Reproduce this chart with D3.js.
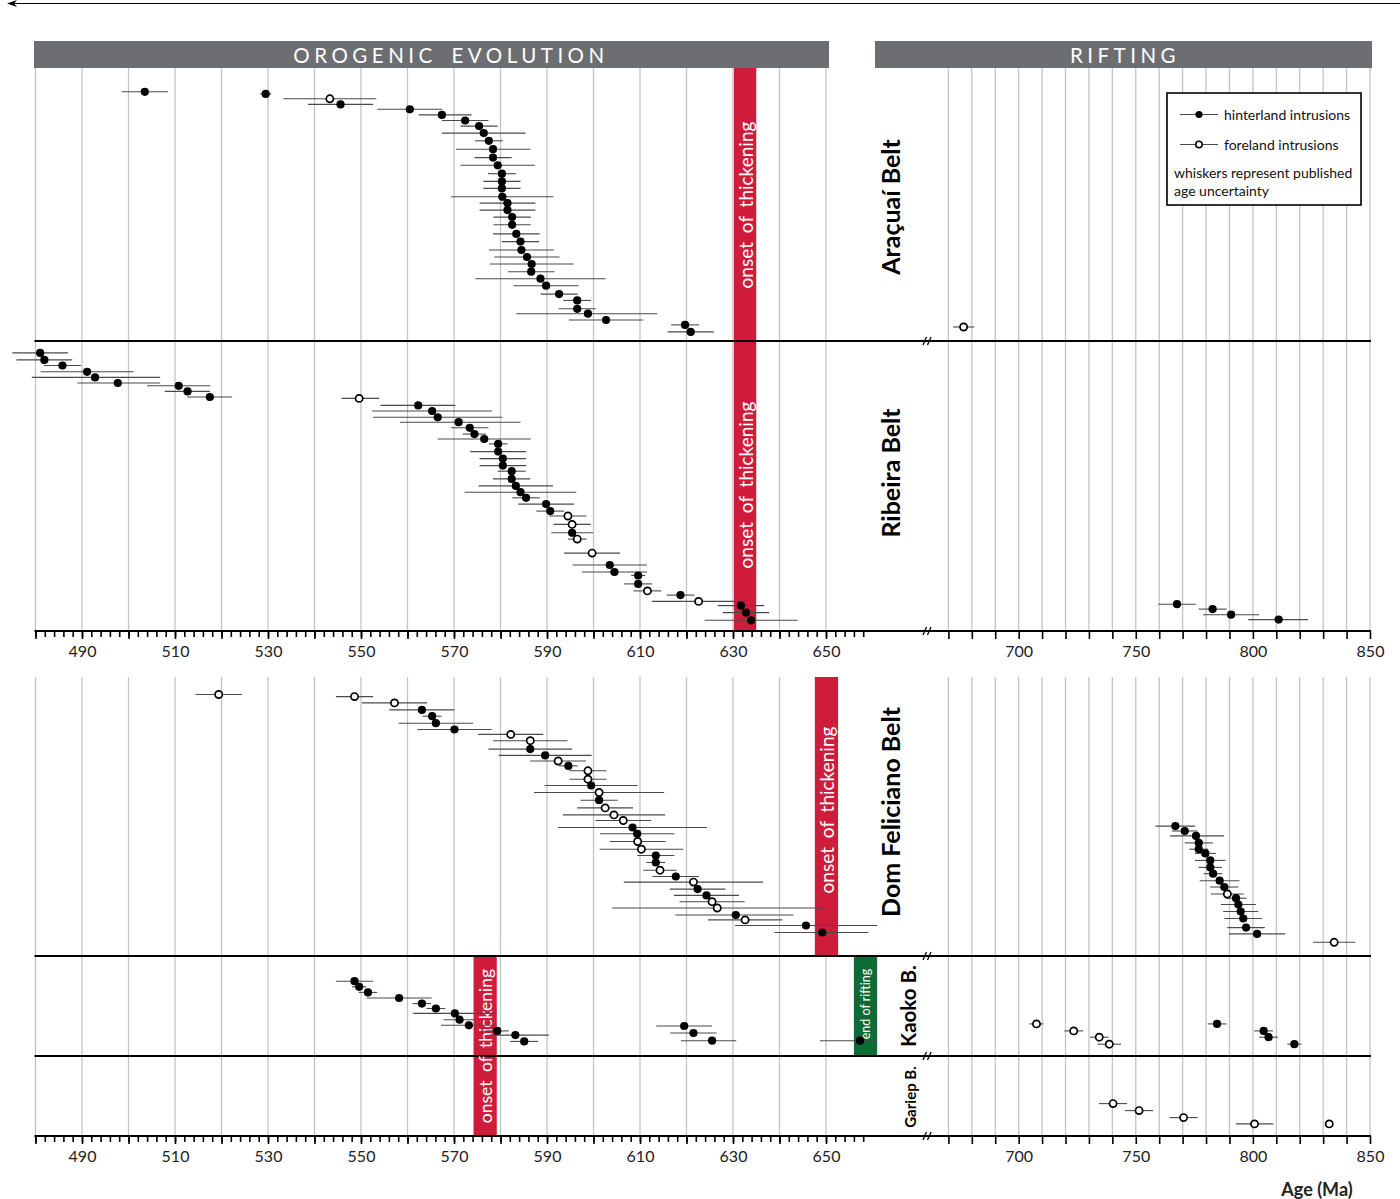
<!DOCTYPE html>
<html><head><meta charset="utf-8">
<script src="https://cdn.jsdelivr.net/npm/d3@7"></script>
<style>
body{margin:0;background:#fff}
svg{display:block}
text{font-family:Lato,'Open Sans',sans-serif}
</style>
</head><body>
<svg id="c" width="1400" height="1199"></svg>
<script>
// ---------------- DATA ----------------
// each sample: [age (Ma), minus error, plus error, kind (h = hinterland, f = foreland), stacking row]
const araLeft = [
[503.5,5,5,"h",3.4],[529.5,1.2,1.2,"h",3.7],[543.3,10,10,"f",4.4],[545.6,7,7,"h",5.2],
[560.5,7,7,"h",5.9],[567.4,5,6.4,"h",6.7],[572.4,5,5,"h",7.5],[575.4,4,4,"h",8.3],
[576.4,9,9,"h",9.3],[577.5,3,3,"h",10.4],[578.4,8,8,"h",11.6],[578.4,4,4,"h",12.8],
[579.4,8,8,"h",13.9],[580.3,3,3,"h",15.1],[580.3,4,4,"h",16.2],[580.3,4,4,"h",17.2],
[580.4,11,11,"h",18.4],[581.5,6,6,"h",19.3],[581.5,6,6,"h",20.3],[582.5,4,4,"h",21.3],
[582.5,4,4,"h",22.4],[583.4,5,5,"h",23.7],[584.3,4,4,"h",24.8],[584.5,7,7,"h",26.0],
[585.7,7,7,"h",27.0],[586.7,9,9,"h",28.0],[586.6,5,5,"h",29.1],[588.6,14,14,"h",30.1],
[589.8,7,7,"h",31.1],[592.6,4,4,"h",32.3],[596.5,3,3,"h",33.2],[596.5,4,4,"h",34.4],
[598.8,15.4,14.9,"h",35.1],[602.7,8,8,"h",36.0],[619.7,3,3,"h",36.7],[620.9,5,5,"h",37.7]
];
const araRight = [[676.5,4.5,4.5,"f",37.0]];

const ribLeft = [
[481,6,6,"h",1.7],[481.9,6,6,"h",2.7],[485.8,4,4,"h",3.5],[491.1,10,10,"h",4.4],
[492.8,13.6,14,"h",5.2],[497.7,8.7,9.1,"h",6.0],[510.8,6.8,6.8,"h",6.4],[512.7,4.9,4.8,"h",7.2],
[517.5,4.9,4.8,"h",8.0],[549.6,3.8,4.3,"f",8.2],[562.3,8.1,8,"h",9.2],[565.3,12.9,12.9,"h",10.0],
[566.5,13.9,13.9,"h",10.9],[571,12.6,13.3,"h",11.6],[573.4,4,4,"h",12.4],[574.4,2.5,2.5,"h",13.3],
[576.5,10,10,"h",14.0],[579.5,2,2,"h",14.7],[579.5,6,6,"h",15.8],[580.5,5,5,"h",16.8],
[580.5,5,5,"h",17.8],[582.4,3,3,"h",18.6],[582.4,4,4,"h",19.7],[583.3,8,8,"h",20.7],
[584.3,12,12,"h",21.6],[585.5,3,3,"h",22.4],[589.8,6,6,"h",23.3],[590.7,3,3,"h",24.3],
[594.5,4,4,"f",25.0],[595.4,4,4,"f",26.2],[595.4,4.5,4.5,"h",27.4],[596.5,2,2,"f",28.3],
[599.7,6,6,"f",30.3],[603.5,8,8,"h",32.0],[604.5,7,7,"h",33.0],[609.6,1.5,1.5,"h",33.5],
[609.6,3,3,"h",34.7],[611.6,3,3,"f",35.7],[618.7,3,3,"h",36.3],[622.6,10,10,"f",37.2],
[631.7,5,5,"h",37.8],[632.8,5,5,"h",38.8],[633.9,10,10,"h",39.9]
];
const ribRight = [[767.6,8,8,"h",37.6],[782.8,6,6,"h",38.3],[790.7,12,12,"h",39.1],[811,13,12.5,"h",39.8]];

const dfLeft = [
[519.4,5,5,"f",2.5],[548.6,4,4,"f",2.8],[557.2,7,7,"f",3.7],[563.1,7,7,"h",4.7],
[565.3,2,2,"h",5.6],[566.1,8,8,"h",6.6],[570.1,8,8,"h",7.5],[582.2,7,7,"f",8.2],
[586.4,8,8,"f",9.1],[586.4,9,9,"h",10.3],[589.6,10,10,"h",11.2],[592.4,6,6,"f",12.0],
[594.6,2,2,"h",12.7],[598.8,4,4,"f",13.4],[598.8,4,4,"f",14.6],[599.5,10,10,"h",15.5],
[601.2,14,14,"f",16.5],[601.2,4,4,"h",17.6],[602.5,6,6,"f",18.7],[604.4,11,11,"f",19.7],
[606.4,6,6,"f",20.5],[608.4,16,16,"h",21.5],[609.4,8,8,"h",22.4],[609.5,6,6,"f",23.5],
[610.3,9,9,"f",24.6],[613.4,4,4,"h",25.5],[613.4,2,2,"h",26.5],[614.3,3.6,3.6,"f",27.6],
[617.7,5,5,"h",28.5],[621.5,15,15,"f",29.3],[622.4,6,6,"h",30.3],[624.3,7,7,"h",31.2],
[625.5,7,7,"f",32.1],[626.6,22.6,23.2,"f",33.0],[630.6,13,12.4,"h",34.0],[632.6,8,8,"f",34.7],
[645.7,15.3,15.3,"h",35.5],[649.2,10.3,9.9,"h",36.5]
];
const dfRight = [
[766.9,8.5,8.5,"h",21.3],[770.9,5.5,5.5,"h",22.0],[775.7,11,12,"h",22.7],[776.9,6,6,"h",23.7],
[776.9,4,4,"h",24.6],[779.7,4.5,4.5,"h",25.2],[781.8,6.5,6.5,"h",26.2],[781.8,5,5,"h",27.2],
[783,4,4,"h",28.1],[785.8,8.5,8.5,"h",29.1],[787.8,6,6,"h",30.0],[789.1,7,7,"f",31.0],
[792.8,4.5,4.5,"h",31.6],[793.8,7.5,7.5,"h",32.5],[794.8,7.5,7.5,"h",33.5],[795.9,8,8,"h",34.5],
[797.1,8,8,"h",35.8],[801.8,12,12,"h",36.7],[834.7,9,9,"f",37.9]
];

const kaoLeft = [
[548.6,4,4,"h",3.6],[549.6,1.5,1.5,"h",4.4],[551.5,2,2,"h",5.2],[558.2,7,7,"h",6.0],
[563.1,2,2,"h",6.8],[566.1,2,2,"h",7.5],[570.2,9,9,"h",8.2],[571.2,3.5,3.5,"h",9.1],
[573.2,6,6,"h",9.9],[579.3,2.5,2.5,"h",10.7],[583.2,5.5,7.2,"h",11.3],[585.1,3,3,"h",12.2],
[619.5,6,6,"h",10.0],[621.5,5,5,"h",11.0],[625.5,6.7,5.2,"h",12.1],[657.3,8.6,3.7,"h",12.1]
];
const kaoRight = [
[707.6,3,3,"f",9.7],[723.5,4,4,"f",10.7],[734.4,4,4,"f",11.6],[738.7,5,5,"f",12.6],
[784.7,4,4,"h",9.7],[804.6,4,4,"h",10.7],[806.7,4,4,"h",11.6],[817.7,3,3,"h",12.6]
];
const garRight = [[740.3,6,6,"f",6.8],[751.4,6,6,"f",7.8],[770.4,6,6,"f",8.8],[800.7,8,8,"f",9.7],[832.6,0,0,"f",9.7]];

const beltNames = ["Araçuaí Belt","Ribeira Belt","Dom Feliciano Belt","Kaoko B.","Gariep B."];
const sectionTitles = ["OROGENIC EVOLUTION","RIFTING"];
const leftTickLabels = [490,510,530,550,570,590,610,630,650];
const rightTickLabels = [700,750,800,850];
const leftDomain = [480,660], rightDomain = [663,850];
// onset of thickening (Ma) per panel, end of rifting (Ma)
const thickTop = [630.2,635.0], thickDF = [647.6,652.6], thickKG = [574.2,579.2];
const riftEnd = [656,661];
const legendItems = [["h","hinterland intrusions"],["f","foreland intrusions"]];
const legendNote = ["whiskers represent published","age uncertainty"];
const annotation = "onset of thickening", riftLabel = "end of rifting", axisTitle = "Age (Ma)";

// ---------------- LAYOUT ----------------
const RED = "#cf1c3a", GREEN = "#0f6b36", HEAD = "#6d6e71", GRID = "#c4c4c4", WHISK = "#4a4a4a";
const svg = d3.select("#c");
const xL = d3.scaleLinear().domain(leftDomain).range([35.5, 872.5]);
const xR = d3.scaleLinear().domain(rightDomain).range([932, 1370]);
const ROW = 7;
const bands = {ara:[68,341], rib:[341,631], df:[677,956], kao:[956,1056], gar:[1056,1136]};
const yOf = b => d3.scaleLinear().domain([0,(bands[b][1]-bands[b][0])/ROW]).range(bands[b]);

// top arrow
svg.append("line").attr("x1",9).attr("x2",1400).attr("y1",3.5).attr("y2",3.5).attr("stroke","#000").attr("stroke-width",1.2);
svg.append("path").attr("d","M7,3.5 L17,0 L14,3.5 L17,7 Z").attr("fill","#000");

// header bars
const heads = [[34,829,451],[875,1372,1125]];
heads.forEach((h,i)=>{
  svg.append("rect").attr("x",h[0]).attr("y",41).attr("width",h[1]-h[0]).attr("height",27).attr("fill",HEAD);
  svg.append("text").attr("x",h[2]).attr("y",55).attr("text-anchor","middle").attr("dominant-baseline","central")
    .attr("fill","#fff").attr("font-size",20.5).attr("letter-spacing",4.5).attr("word-spacing",5)
    .text(sectionTitles[i]);
});

// gridlines
const gl = svg.append("g").attr("stroke",GRID).attr("stroke-width",1.3);
[[68,631],[677,1136]].forEach(([y0,y1])=>{
  d3.range(480,651,10).forEach(v=>gl.append("line").attr("x1",xL(v)).attr("x2",xL(v)).attr("y1",y0).attr("y2",y1));
  d3.range(670,851,10).forEach(v=>gl.append("line").attr("x1",xR(v)).attr("x2",xR(v)).attr("y1",y0).attr("y2",y1));
});

// bars
function vbar(x, range, y0, y1, fill){
  svg.append("rect").attr("x",x(range[0])).attr("width",x(range[1])-x(range[0])).attr("y",y0).attr("height",y1-y0).attr("fill",fill);
}
vbar(xL, thickTop, 68, 631, RED);
vbar(xL, thickDF, 677, 956, RED);
vbar(xL, thickKG, 956, 1136, RED);
vbar(xL, riftEnd, 956, 1056, GREEN);

// horizontal separators & axis lines
[341,631,956,1056,1136].forEach(y=>{
  svg.append("line").attr("x1",34.5).attr("x2",1371).attr("y1",y).attr("y2",y).attr("stroke","#000").attr("stroke-width",2);
  const bx = 928;
  [-3.5,1].forEach(o=>svg.append("line").attr("x1",bx+o-1.5).attr("x2",bx+o+2).attr("y1",y+4).attr("y2",y-4).attr("stroke","#000").attr("stroke-width",1.3));
});

// axes
function drawAxes(y){
  const g = svg.append("g").attr("transform",`translate(0,${y})`);
  g.append("g").call(d3.axisBottom(xL).tickValues(d3.range(480,659,2)).tickSize(6).tickFormat(""));
  g.append("g").call(d3.axisBottom(xL).tickValues(d3.range(480,651,10)).tickSize(8).tickFormat(""));
  g.append("g").call(d3.axisBottom(xR).tickValues(d3.range(670,851,10)).tickSize(8).tickFormat(""));
  g.append("g").call(d3.axisBottom(xL).tickValues(leftTickLabels).tickSize(0).tickPadding(15).tickFormat(d3.format("d")));
  g.append("g").call(d3.axisBottom(xR).tickValues(rightTickLabels).tickSize(0).tickPadding(15).tickFormat(d3.format("d")));
  g.selectAll(".domain").remove();
  g.selectAll(".tick line").attr("stroke","#000").attr("stroke-width",1.6);
  g.selectAll(".tick text").attr("font-family","Lato, sans-serif").attr("font-size",16).attr("fill","#222");
}
drawAxes(631);
drawAxes(1136);

// annotation texts on bars
function vtext(x,y,txt,size,fill,weight,ws){
  svg.append("text").attr("transform",`translate(${x},${y}) rotate(-90)`).attr("text-anchor","middle")
    .attr("dominant-baseline","central").attr("font-size",size).attr("fill",fill).attr("font-weight",weight||"normal")
    .attr("word-spacing",ws||0).text(txt);
}
const mid = (x,r)=> (x(r[0])+x(r[1]))/2;
vtext(mid(xL,thickTop), 205, annotation, 19, "#fff", "normal", 4);
vtext(mid(xL,thickTop), 485, annotation, 19, "#fff", "normal", 4);
vtext(mid(xL,thickDF), 810, annotation, 19, "#fff", "normal", 4);
vtext(mid(xL,thickKG), 1046, annotation, 17.5, "#fff", "normal", 4);
vtext(mid(xL,riftEnd), 1004, riftLabel, 12.5, "#fff", "normal", 0);

// belt labels
vtext(890, 207, beltNames[0], 25, "#000", "bold");
vtext(890, 473, beltNames[1], 25, "#000", "bold");
vtext(890, 812, beltNames[2], 25, "#000", "bold");
vtext(908, 1006, beltNames[3], 20.5, "#000", "bold");
vtext(910, 1097, beltNames[4], 15, "#000", "bold");

// samples
const sets = [
  [araLeft,xL,"ara"],[araRight,xR,"ara"],[ribLeft,xL,"rib"],[ribRight,xR,"rib"],
  [dfLeft,xL,"df"],[dfRight,xR,"df"],[kaoLeft,xL,"kao"],[kaoRight,xR,"kao"],[garRight,xR,"gar"]
];
const wg = svg.append("g"), pg = svg.append("g");
sets.forEach(([data,x,b])=>{
  const y = yOf(b);
  wg.selectAll(null).data(data).enter().append("line")
    .attr("x1",d=>x(d[0]-d[1])).attr("x2",d=>x(d[0]+d[2]))
    .attr("y1",d=>y(d[4])).attr("y2",d=>y(d[4]))
    .attr("stroke",WHISK).attr("stroke-width",1.1);
  pg.selectAll(null).data(data).enter().append("circle")
    .attr("cx",d=>x(d[0])).attr("cy",d=>y(d[4]))
    .attr("r",d=>d[3]==="h"?4.1:3.6)
    .attr("fill",d=>d[3]==="h"?"#000":"#fff")
    .attr("stroke","#000").attr("stroke-width",d=>d[3]==="h"?0:1.7);
});

// legend
const lg = svg.append("g");
lg.append("rect").attr("x",1167).attr("y",93).attr("width",194).attr("height",112).attr("fill","#fff").attr("stroke","#000").attr("stroke-width",1.6);
legendItems.forEach((it,i)=>{
  const yy = 114.5 + i*30;
  lg.append("line").attr("x1",1180).attr("x2",1218).attr("y1",yy).attr("y2",yy).attr("stroke",WHISK).attr("stroke-width",1.1);
  lg.append("circle").attr("cx",1199).attr("cy",yy).attr("r",it[0]==="h"?3.6:3.2)
    .attr("fill",it[0]==="h"?"#000":"#fff").attr("stroke","#000").attr("stroke-width",it[0]==="h"?0:1.5);
  lg.append("text").attr("x",1224).attr("y",yy).attr("dominant-baseline","central").attr("font-size",14).attr("fill","#111").text(it[1]);
});
legendNote.forEach((t,i)=>{
  lg.append("text").attr("x",1174).attr("y",172+i*18).attr("dominant-baseline","central").attr("font-size",14).attr("fill","#111").text(t);
});

// axis title
svg.append("text").attr("x",1317).attr("y",1189).attr("text-anchor","middle").attr("dominant-baseline","central")
  .attr("font-size",18).attr("font-weight","bold").attr("fill","#222").text(axisTitle);
</script>
</body></html>
